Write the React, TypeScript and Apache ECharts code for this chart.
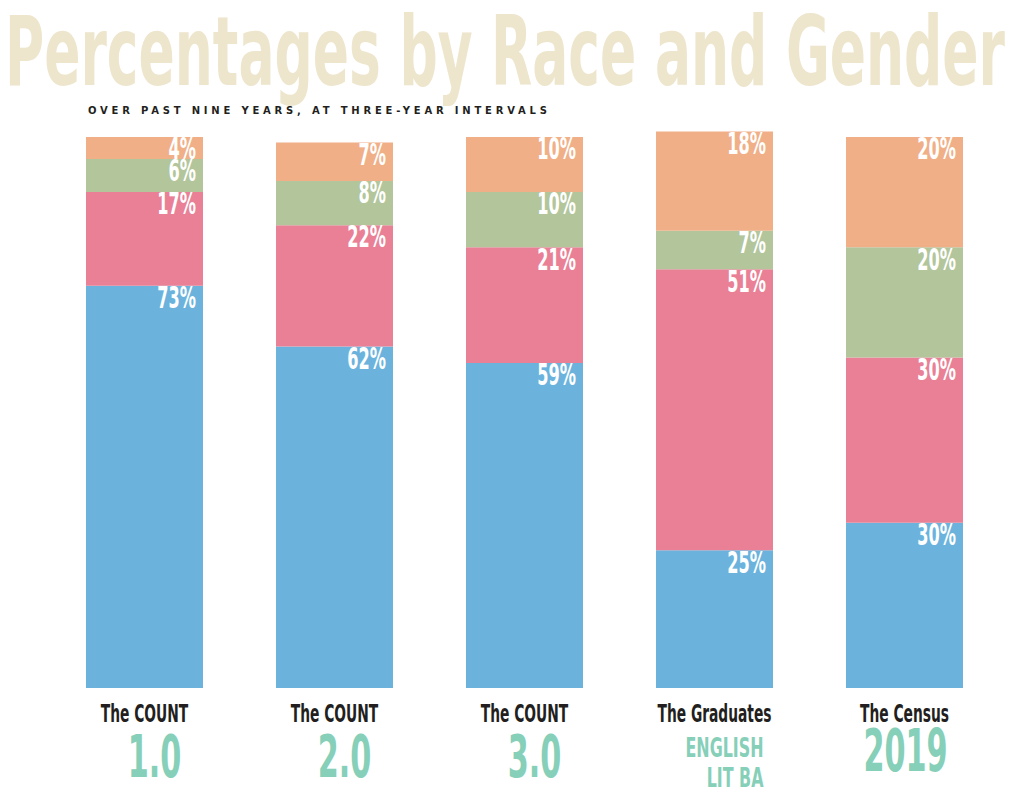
import React, { useEffect, useRef } from "react";
import * as echarts from "echarts";

// Groups shown along the bottom
const groupNames = ["The COUNT", "The COUNT", "The COUNT", "The Graduates", "The Census"];
const groupEditions = ["1.0", "2.0", "3.0", "ENGLISH\nLIT BA", "2019"];

// Stacked shares (percent), bottom to top
const blueShare = [73, 62, 59, 25, 30];
const pinkShare = [17, 22, 21, 51, 30];
const greenShare = [6, 8, 10, 7, 20];
const orangeShare = [4, 7, 10, 18, 20];

const TITLE = "Percentages by Race and Gender";
const SUBTITLE = "OVER PAST NINE YEARS, AT THREE-YEAR INTERVALS";

const COND = '"DejaVu Sans Condensed", "DejaVu Sans", sans-serif';
const BAR_W = 117;

const COLORS = {
  blue: "#6bb3dd",
  pink: "#e98096",
  green: "#b2c59b",
  orange: "#f0af87",
  teal: "#86cfb8",
  ink: "#231f20",
  title: "#ede5cc",
};

const layers = [
  { name: "blue", data: blueShare, color: COLORS.blue },
  { name: "pink", data: pinkShare, color: COLORS.pink },
  { name: "green", data: greenShare, color: COLORS.green },
  { name: "orange", data: orangeShare, color: COLORS.orange },
];

// [category index, stacked top of the segment, segment share]
const segmentLabels: number[][] = [];
groupNames.forEach((_, i) => {
  let running = 0;
  layers.forEach((layer) => {
    running += layer.data[i];
    segmentLabels.push([i, running, layer.data[i]]);
  });
});

function condText(
  text: string,
  x: number,
  y: number,
  size: number,
  fill: string,
  scaleX: number,
  align: string = "center"
) {
  return {
    type: "text",
    x,
    y,
    scaleX,
    style: {
      text,
      font: `bold ${size}px ${COND}`,
      fill,
      align,
      verticalAlign: "middle",
    },
  };
}

export default function App() {
  const ref = useRef<HTMLDivElement>(null);

  useEffect(() => {
    if (!ref.current) return;
    const chart = echarts.init(ref.current, undefined, { renderer: "svg" });

    chart.setOption({
      animation: false,
      backgroundColor: "#ffffff",
      grid: { left: 49.5, right: 24.5, top: 131.5, bottom: 109, containLabel: false },
      xAxis: {
        type: "category",
        data: groupNames,
        axisLine: { show: false },
        axisTick: { show: false },
        axisLabel: { show: false },
      },
      yAxis: {
        type: "value",
        min: 0,
        max: 101,
        show: false,
        splitLine: { show: false },
      },
      series: [
        ...layers.map((layer) => ({
          name: layer.name,
          type: "bar",
          stack: "total",
          data: layer.data,
          barWidth: BAR_W,
          itemStyle: { color: layer.color },
        })),
        {
          // percentage labels at the top-right of each segment
          type: "custom",
          silent: true,
          z: 5,
          data: segmentLabels,
          renderItem: (_params: any, api: any) => {
            const p = api.coord([api.value(0), api.value(1)]);
            return condText(
              `${api.value(2)}%`,
              p[0] + BAR_W / 2 - 7,
              p[1] + 12,
              30,
              "#ffffff",
              0.6,
              "right"
            );
          },
        },
        {
          // group captions under each bar
          type: "custom",
          silent: true,
          z: 5,
          data: groupNames.map((_, i) => [i, 0]),
          renderItem: (_params: any, api: any) => {
            const i = api.value(0);
            const p = api.coord([i, 0]);
            const ed = groupEditions[i];
            const children: any[] = [
              condText(groupNames[i], p[0], p[1] + 26, 24, COLORS.ink, 0.64),
            ];
            if (ed.includes("\n")) {
              ed.split("\n").forEach((line, k) => {
                children.push(
                  condText(line, p[0] + 49, p[1] + 59.5 + k * 30, 26, COLORS.teal, 0.68, "right")
                );
              });
            } else if (ed.includes(".")) {
              children.push(condText(ed, p[0] + 10, p[1] + 68.5, 59, COLORS.teal, 0.57));
            } else {
              children.push(condText(ed, p[0] + 1, p[1] + 63, 58, COLORS.teal, 0.58));
            }
            return { type: "group", children };
          },
        },
      ],
      graphic: [
        {
          type: "text",
          x: 5,
          y: 52,
          scaleX: 0.619,
          style: {
            text: TITLE,
            font: `bold 96px ${COND}`,
            fill: COLORS.title,
            verticalAlign: "middle",
          },
        },
        {
          type: "text",
          x: 88,
          y: 110,
          style: {
            text: SUBTITLE,
            font: 'bold 10px "DejaVu Sans", sans-serif',
            fill: COLORS.ink,
            verticalAlign: "middle",
          },
        },
      ],
    });

    // widen the tracking of the small caps subtitle
    const spaceOut = () => {
      ref.current?.querySelectorAll("text").forEach((t) => {
        if (t.textContent === SUBTITLE) t.setAttribute("letter-spacing", "3.8");
      });
    };
    spaceOut();
    chart.on("finished", spaceOut);

    return () => chart.dispose();
  }, []);

  return (
    <div
      ref={ref}
      style={{ position: "absolute", left: 0, top: 0, width: 1024, height: 797 }}
    />
  );
}
